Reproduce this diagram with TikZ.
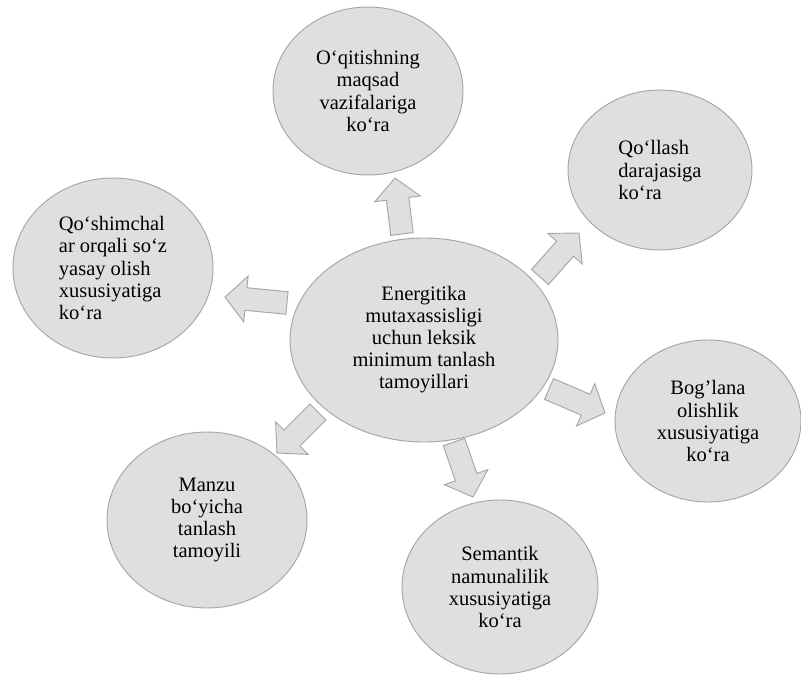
\documentclass[tikz,border=0pt]{standalone}
\usepackage{fontspec}
\setmainfont{Liberation Serif}
\usepackage{tikz}
\usetikzlibrary{shapes.geometric}
\usetikzlibrary{calc}

% block arrow from base coordinate #1 to tip coordinate #2
\newcommand{\blockarrow}[2]{%
\coordinate (#1h) at ($(#2)!0.63cm!(#1)$);
\draw[blockarr] ($(#1)!0.34cm!90:(#2)$)--($(#1h)!0.34cm!90:(#2)$)--($(#1h)!0.69cm!90:(#2)$)--(#2)--($(#1h)!0.69cm!-90:(#2)$)--($(#1h)!0.34cm!-90:(#2)$)--($(#1)!0.34cm!-90:(#2)$)--cycle;
}

\tikzset{
  bubble/.style={ellipse, draw=gray!70, fill=gray!25, line width=0.8pt, inner sep=0pt,
    font=\fontsize{17.5}{18.8}\selectfont},
  blockarr/.style={draw=gray!70, fill=gray!25, line width=0.8pt, line join=miter}
}

\begin{document}
\begin{tikzpicture}[x=0.03cm, y=-0.03cm]

\useasboundingbox (0,0) rectangle (801,675);

% centre
\node[bubble, minimum width=268*0.03cm, minimum height=204*0.03cm, align=center] (centre) at (424,340)
{Energitika\\mutaxassisligi\\uchun leksik\\minimum tanlash\\tamoyillari};

% around it
\node[bubble, minimum width=190*0.03cm, minimum height=168*0.03cm, align=center] (maqsad) at (368,91)
{Oʻqitishning\\maqsad\\vazifalariga\\koʻra};
\node[bubble, minimum width=184*0.03cm, minimum height=160*0.03cm, align=left] (daraja) at (660,170)
{Qoʻllash\\darajasiga\\koʻra};
\node[bubble, minimum width=200*0.03cm, minimum height=180*0.03cm, align=left] (qoshimcha) at (113,268)
{Qoʻshimchal\\ar orqali soʻz\\yasay olish\\xususiyatiga\\koʻra};
\node[bubble, minimum width=186*0.03cm, minimum height=162*0.03cm, align=center] (boglana) at (708,421)
{Bogʼlana\\olishlik\\xususiyatiga\\koʻra};
\node[bubble, minimum width=200*0.03cm, minimum height=176*0.03cm, align=center] (manzu) at (207,520)
{Manzu\\boʻyicha\\tanlash\\tamoyili};
\node[bubble, minimum width=196*0.03cm, minimum height=174*0.03cm, align=center] (semantik) at (500,587)
{Semantik\\namunalilik\\xususiyatiga\\koʻra};

% arrows: base and tip
\coordinate (upB) at (402,234);  \coordinate (upT) at (395,178);
\coordinate (urB) at (540,277);  \coordinate (urT) at (579,233);
\coordinate (lfB) at (287,303);  \coordinate (lfT) at (225,297);
\coordinate (rtB) at (549,389);  \coordinate (rtT) at (605,413);
\coordinate (dlB) at (318,412);  \coordinate (dlT) at (277,453);
\coordinate (dnB) at (454,442);  \coordinate (dnT) at (473,497);

\blockarrow{upB}{upT}
\blockarrow{urB}{urT}
\blockarrow{lfB}{lfT}
\blockarrow{rtB}{rtT}
\blockarrow{dlB}{dlT}
\blockarrow{dnB}{dnT}

\end{tikzpicture}
\end{document}
